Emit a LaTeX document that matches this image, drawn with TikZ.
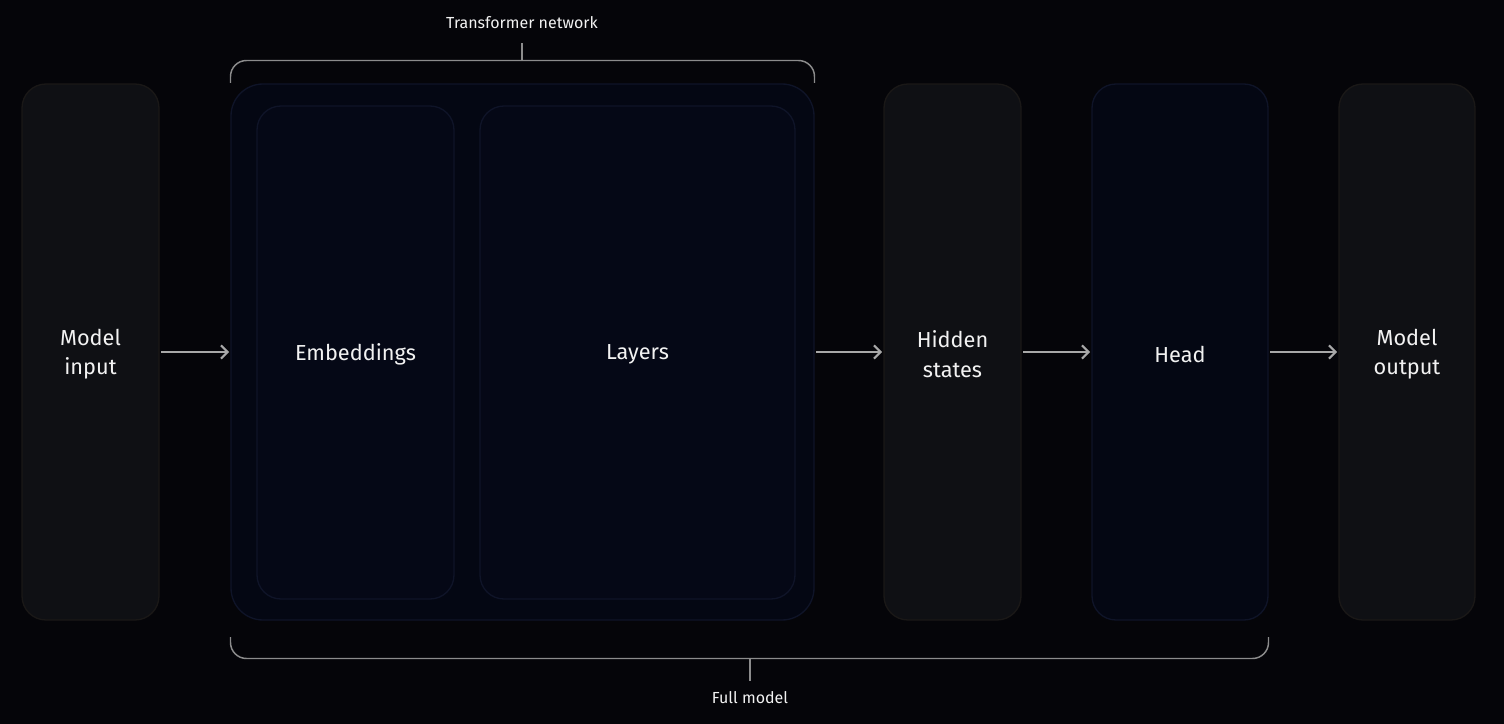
\documentclass[tikz,border=0pt]{standalone}
\usepackage{fontspec}
\setmainfont{Fira Sans}
\usetikzlibrary{arrows.meta}
\definecolor{bg}{HTML}{050509}
\definecolor{grayfill}{HTML}{0F1014}
\definecolor{graydraw}{HTML}{1A1817}
\definecolor{navyfill}{HTML}{040713}
\definecolor{navyfill2}{HTML}{050816}
\definecolor{navydraw}{HTML}{0F1428}
\definecolor{arrowc}{HTML}{A8A8A8}
\definecolor{bracec}{HTML}{8C8C8C}
\definecolor{txt}{HTML}{F2F2F2}
\tikzset{
  x=0.75pt, y=-0.75pt,
  graybox/.style={draw=graydraw, fill=grayfill, line width=1pt, rounded corners=18pt},
  navybox/.style={draw=navydraw, fill=navyfill, line width=1pt, rounded corners=24pt},
  innerbox/.style={draw=navydraw, fill=navyfill2, line width=1pt, rounded corners=18pt},
  lbl/.style={text=txt, font=\fontsize{16.3}{22}\selectfont, align=center},
  small/.style={text=txt, font=\fontsize{12}{14}\selectfont},
  flow/.style={draw=arrowc, line width=1.5pt, -{Straight Barb[length=5pt,width=10pt,line width=1.5pt]}},
  brace/.style={draw=bracec, line width=1.1pt, rounded corners=12pt},
  stub/.style={draw=bracec, line width=1.1pt}
}
\begin{document}
\begin{tikzpicture}
\fill[bg] (0,0) rectangle (1504,724);
\useasboundingbox (0,0) rectangle (1504,724);

% boxes
\draw[graybox] (22,84) rectangle (159,620);
\node[lbl] (input) at (90.5,354) {Model\\input};

\draw[navybox] (231,84) rectangle (814,620);
\coordinate (tleft) at (231,352);
\coordinate (tright) at (814,352);

\draw[innerbox] (257,106) rectangle (454,599);
\node[lbl] (emb) at (355.5,354) {Embeddings};

\draw[innerbox] (480,106) rectangle (795,599);
\node[lbl] (layers) at (637.5,354) {Layers};

\draw[graybox] (884,84) rectangle (1021,620);
\node[lbl] (hidden) at (952.5,354) {Hidden\\states};
\coordinate (hleft) at (884,352);
\coordinate (hright) at (1021,352);

\draw[navybox, rounded corners=18pt] (1092,84) rectangle (1268,620);
\node[lbl] (head) at (1180,354) {Head};
\coordinate (headl) at (1092,352);
\coordinate (headr) at (1268,352);

\draw[graybox] (1339,84) rectangle (1475,620);
\node[lbl] (output) at (1407,354) {Model\\output};
\coordinate (outl) at (1339,352);
\coordinate (inr) at (159,352);

% arrows
\draw[flow] ([xshift=1.5]inr) -- ([xshift=-1.5]tleft);
\draw[flow] ([xshift=1.5]tright) -- ([xshift=-1.5]hleft);
\draw[flow] ([xshift=1.5]hright) -- ([xshift=-1.5]headl);
\draw[flow] ([xshift=1.5]headr) -- ([xshift=-1.5]outl);

% top brace
\draw[brace] (230.5,83) -- (230.5,60.5) -- (814.5,60.5) -- (814.5,83);
\coordinate (tstub) at (522,60.5);
\node[small] (tn) at (522,23) {Transformer network};
\draw[stub] (tstub) -- ++(0,-17);

% bottom brace
\draw[brace] (230.5,637) -- (230.5,658.5) -- (1268.5,658.5) -- (1268.5,637);
\coordinate (bstub) at (750,658.5);
\node[small] (fm) at (750,698) {Full model};
\draw[stub] (bstub) -- ++(0,22);
\end{tikzpicture}
\end{document}
